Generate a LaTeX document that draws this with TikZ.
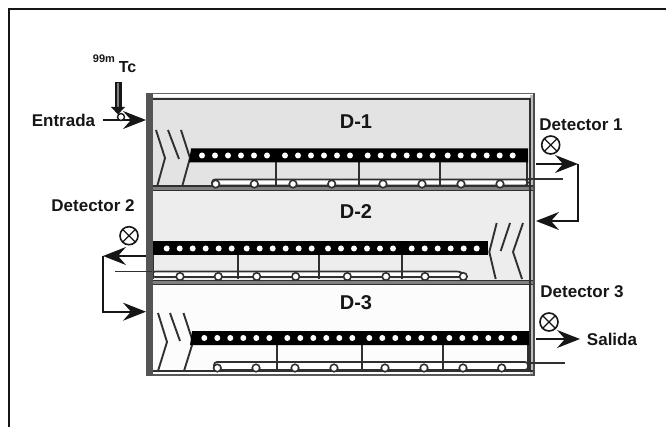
\documentclass[tikz,border=0pt]{standalone}
\usepackage{fontspec}
\setmainfont{Liberation Sans}
\usetikzlibrary{arrows.meta}
\definecolor{wallc}{HTML}{555555}
\definecolor{linec}{HTML}{303030}
\definecolor{inkc}{HTML}{161616}
\tikzset{
  x=1pt,y=-1pt,
  lab/.style={font=\fontsize{17}{18}\bfseries,text=inkc,inner sep=0pt},
  dlab/.style={font=\fontsize{20}{22}\bfseries,text=inkc,inner sep=0pt},
  flowline/.style={draw=inkc,line width=1.8pt},
  flowarrow/.style={flowline,-{Stealth[length=23pt,width=18pt,inset=8pt]}},
  det/.style={circle,draw=inkc,line width=1.6pt,minimum size=18pt,inner sep=0pt,fill=white,
    path picture={\draw[inkc,line width=1.3pt] (path picture bounding box.north west)--(path picture bounding box.south east)
      (path picture bounding box.north east)--(path picture bounding box.south west);}},
  barbox/.style={fill=black,draw=none},
  hole/.style={circle,fill=white,draw=none,minimum size=6pt,inner sep=0pt},
  port/.style={circle,fill=white,draw=linec,line width=1.6pt,minimum size=7.5pt,inner sep=0pt},
  thin wall/.style={draw=linec,line width=1.6pt},
  tube/.style={draw=linec,line width=1.7pt,fill=white,rounded corners=3pt},
  stay/.style={draw=linec,line width=1.7pt},
  baffle/.style={draw=linec,line width=1.9pt},
}
\begin{document}
\begin{tikzpicture}
\useasboundingbox (0,0) rectangle (666,427);
% page frame
\draw[inkc,line width=2pt] (8.5,427) -- (8.5,9) -- (666,9);
% compartments
\fill[black!11] (150,97) rectangle (532,187);
\fill[black!7] (150,187) rectangle (532,281);
\fill[black!1] (150,281) rectangle (532,373);
\fill[black!25] (530,95) rectangle (534,374);
% tubes
\draw[tube] (212,185.5) -- (212,179.5) -- (528,179.5) -- (528,185.5) -- cycle;
\draw[tube] (152,277) -- (152,271.5) -- (460,271.5) -- (468,277) -- cycle;
\draw[tube] (214,370) -- (214,362) -- (528,362) -- (528,370) -- cycle;
% stays from bars to floors
\foreach \x in {275.7,359.3,440,527} \draw[stay] (\x,160) -- (\x,187);
\foreach \x in {153,238.3,319,402.3} \draw[stay] (\x,255) -- (\x,279);
\foreach \x in {277.3,361.7,442.7,528} \draw[stay] (\x,343) -- (\x,371);
% baffles
\draw[baffle] (156,130) -- (165,158) -- (157,187);
\draw[baffle] (168,130) -- (179,159);
\draw[baffle] (181,130) -- (190,158) -- (182,187);
\draw[baffle] (523,223) -- (513,252) -- (522,279);
\draw[baffle] (510,223) -- (500.7,251);
\draw[baffle] (496.7,223) -- (489.3,252) -- (495.7,279);
\draw[baffle] (158,313) -- (167,342) -- (158,371);
\draw[baffle] (170,313) -- (180,341);
\draw[baffle] (183.5,313) -- (193,342) -- (184,371);
% bars
\fill[barbox] (191,148.5) -- (528,148.5) -- (528,162.5) -- (189,162.5) -- cycle;
\fill[barbox] (151,241.5) rectangle (488,255.5);
\fill[barbox] (192,331) -- (530,331) -- (530,345) -- (190,345) -- cycle;
% holes
\foreach \s in {202,285,367.7,447.7}
  \foreach \k in {0,...,5} \node[hole] at ({\s+13*\k},155.5) {};
\foreach \s in {166.7,246.7,328,411.7}
  \foreach \k in {0,...,5} \node[hole] at ({\s+13*\k},248.5) {};
\foreach \s in {204.3,287.3,369.3,449.3}
  \foreach \k in {0,...,5} \node[hole] at ({\s+13*\k},338) {};
% floors and walls
\fill[black!50] (146,186) rectangle (533,190.5);
\draw[thin wall] (146,186) -- (533,186) (146,190.5) -- (533,190.5);
\fill[black!50] (146,280.5) rectangle (533,284.5);
\draw[thin wall] (146,280.5) -- (533,280.5) (146,284.5) -- (533,284.5);
\draw[thin wall] (146,371) -- (533,371);
\draw[line width=1.8pt,draw=black!65] (146,375) -- (534.5,375);
\draw[line width=1.8pt,draw=black!60] (145.5,93.5) -- (534.5,93.5);
\draw[thin wall,line width=1.8pt] (152,99) -- (530,99);
\fill[wallc] (145.5,93) rectangle (152.7,375.5);
\draw[line width=1.8pt,draw=linec] (530,98) -- (530,372);
\draw[line width=1.8pt,draw=black!70] (534.3,93) -- (534.3,375.5);
% tube ports
\foreach \x in {215.7,254.3,293,331.7,383,422,461,500} \node[port] at (\x,184) {};
\foreach \x in {180,218.3,256.7,295.7,347.3,386,425,463.3} \node[port] at (\x,276.5) {};
\foreach \x in {217.3,256,295,334,385,424,463,501.7} \node[port] at (\x,368) {};
% pipes past the wall
\coordinate (stubA) at (562.7,179.3);
\coordinate (stubAw) at (528,179.3);
\coordinate (stubB) at (115,271.5);
\coordinate (stubBw) at (152,271.5);
\coordinate (stubC) at (565,363);
\coordinate (stubCw) at (528,363);
\draw[stay] (stubAw) -- (stubA);
\draw[stay] (stubBw) -- (stubB);
\draw[stay] (stubCw) -- (stubC);
% labels
\node[dlab] (labA) at (356,122) {D-1};
\node[dlab] (labB) at (356,212) {D-2};
\node[dlab] (labC) at (356,303) {D-3};
\node[lab] (entrada) at (63.5,120) {Entrada};
\node[lab] (salida) at (612,339) {Salida};
\node[lab] (detA) at (581,124.5) {Detector 1};
\node[lab] (detB) at (93,205.5) {Detector 2};
\node[lab] (detC) at (582,292) {Detector 3};
\node[inner sep=0pt,font=\fontsize{11}{11}\bfseries,text=inkc] (iso) at (104,58.5) {99m};
\node[inner sep=0pt,font=\fontsize{16}{16}\bfseries,text=inkc] (tc) at (127.5,67) {Tc};
% detectors
\node[det] (sensA) at (550.7,145) {};
\node[det] (sensB) at (129,235.7) {};
\node[det] (sensC) at (549,322) {};
% flows
\coordinate (inS) at (103,120);
\coordinate (inE) at (146,120);
\draw[flowarrow] (inS) -- (inE);
\coordinate (tcS) at (118,82);
\coordinate (tcE) at (118,108);
\draw[line width=7pt,draw=inkc] (tcS) -- (tcE);
\draw[line width=2.5pt,draw=black!50] (118,83) -- (tcE);
\fill[inkc] (111,107) -- (125,107) -- (118,114.5) -- cycle;
\node[circle,fill=white,draw=inkc,line width=1.4pt,minimum size=7pt,inner sep=0pt] (inj) at (121,117) {};
\coordinate (aS) at (536,164);
\coordinate (aM) at (578,164);
\coordinate (aN) at (578,221);
\coordinate (aE) at (536,221);
\draw[flowarrow] (aS) -- (aM);
\draw[flowarrow] (aM) -- (aN) -- (aE);
\coordinate (bS) at (146,256);
\coordinate (bM) at (103,256);
\coordinate (bN) at (103,311.7);
\coordinate (bE) at (146,311.7);
\draw[flowarrow] (bS) -- (bM);
\draw[flowarrow] (bM) -- (bN) -- (bE);
\coordinate (cS) at (536,339);
\coordinate (cE) at (580,339);
\draw[flowarrow] (cS) -- (cE);
\end{tikzpicture}
\end{document}
